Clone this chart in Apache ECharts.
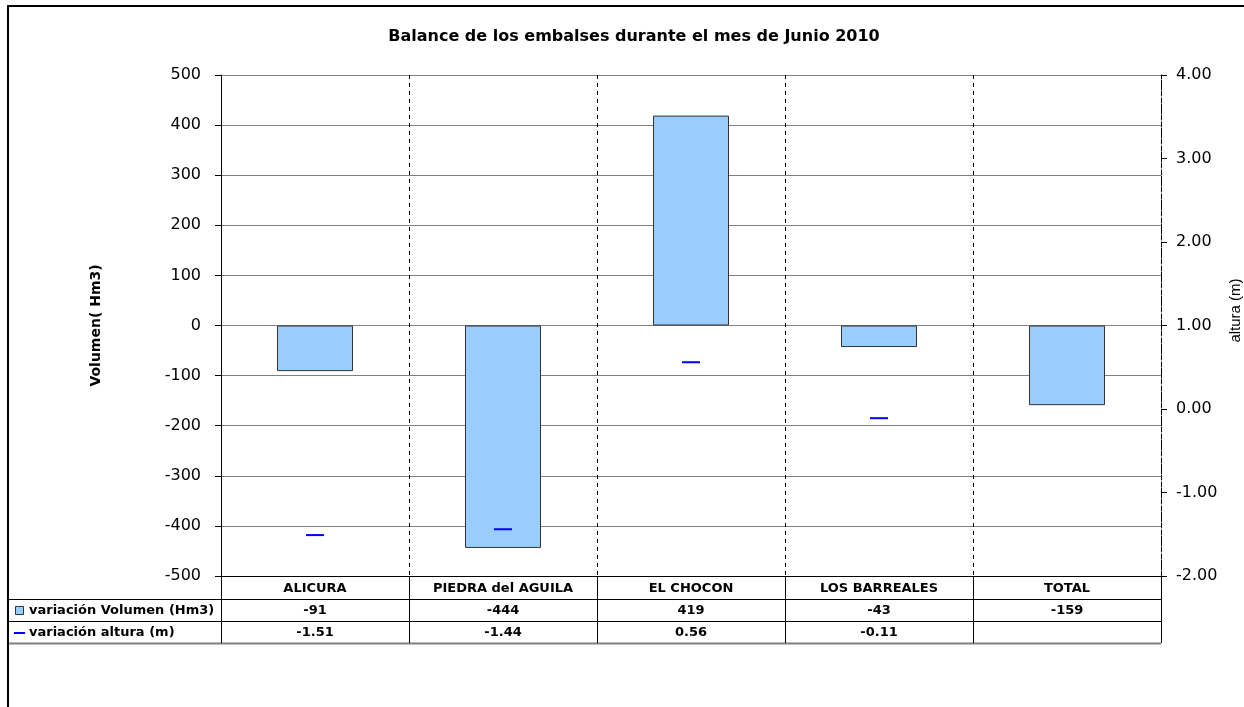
<!DOCTYPE html>
<html>
<head>
<meta charset="utf-8">
<script src="https://cdn.jsdelivr.net/npm/echarts@6/dist/echarts.min.js"></script>
<style>
  html, body { margin: 0; padding: 0; background: #fff; }
  #main { width: 1244px; height: 707px; }
</style>
</head>
<body>
<div id="main"></div>
<script>
// datos del grafico
var categories = ['ALICURA', 'PIEDRA del AGUILA', 'EL CHOCON', 'LOS BARREALES', 'TOTAL'];
var volumen = [-91, -444, 419, -43, -159];
var altura = [-1.51, -1.44, 0.56, -0.11, null];
var volName = 'variación Volumen (Hm3)';
var altName = 'variación altura (m)';

var FONT = '"DejaVu Sans", sans-serif';
var FONT2 = '"Liberation Sans", Arial, sans-serif';
var gLeft = 221, gRight = 1161, gTop = 75, gBottom = 576;
var rowLines = [599, 621, 643];

var myChart = echarts.init(document.getElementById('main'));

// tabla de datos debajo del grafico
function tableGraphics() {
    var g = [];
    var cw = (gRight - gLeft) / categories.length;
    // borde del area del grafico
    g.push({ type: 'rect', shape: { x: 8, y: 6, width: 1400, height: 900 },
        style: { fill: null, stroke: '#000', lineWidth: 2 }, silent: true });
    for (var r = 0; r < rowLines.length; r++) {
        var y = rowLines[r] + 0.5;
        g.push({ type: 'line', shape: { x1: 9, y1: y, x2: gRight, y2: y },
            style: { stroke: r == 2 ? '#808080' : '#000', lineWidth: r == 2 ? 2 : 1 } });
    }
    for (var i = 0; i <= categories.length; i++) {
        var x = Math.round(gLeft + i * cw) + 0.5;
        g.push({ type: 'line', shape: { x1: x, y1: gBottom, x2: x, y2: rowLines[2] },
            style: { stroke: '#000', lineWidth: 1 } });
    }
    var y1 = (rowLines[0] + rowLines[1]) / 2 + 1, y2 = (rowLines[1] + rowLines[2]) / 2 + 1;
    for (var i = 0; i < categories.length; i++) {
        var cx = gLeft + (i + 0.5) * cw;
        g.push({ type: 'text', x: cx, y: y1,
            style: { text: String(volumen[i]), font: 'bold 13px ' + FONT, fill: '#000', align: 'center', verticalAlign: 'middle' } });
        if (altura[i] !== null) {
            g.push({ type: 'text', x: cx, y: y2,
                style: { text: altura[i].toFixed(2), font: 'bold 13px ' + FONT, fill: '#000', align: 'center', verticalAlign: 'middle' } });
        }
    }
    // leyenda en la tabla
    g.push({ type: 'rect', shape: { x: 15.5, y: y1 - 4.5, width: 8, height: 8 },
        style: { fill: '#99CCFF', stroke: '#333', lineWidth: 1 } });
    g.push({ type: 'text', x: 29, y: y1,
        style: { text: volName, font: 'bold 13px ' + FONT, fill: '#000', verticalAlign: 'middle' } });
    g.push({ type: 'line', shape: { x1: 14, y1: y2, x2: 25, y2: y2 },
        style: { stroke: '#0000FF', lineWidth: 2 } });
    g.push({ type: 'text', x: 29, y: y2,
        style: { text: altName, font: 'bold 13px ' + FONT, fill: '#000', verticalAlign: 'middle' } });
    return g;
}

option = {
    animation: false,
    backgroundColor: '#fff',
    title: {
        text: 'Balance de los embalses durante el mes de Junio 2010',
        left: 629, top: 24, textAlign: 'center',
        textStyle: { fontFamily: FONT, fontSize: 16, fontWeight: 'bold', color: '#000' }
    },
    grid: { left: gLeft, right: 1244 - gRight, top: gTop, bottom: 707 - gBottom, outerBoundsMode: 'none', containLabel: false },
    xAxis: {
        type: 'category',
        data: categories,
        boundaryGap: true,
        axisLine: { show: true, onZero: false, lineStyle: { color: '#000', width: 1 } },
        axisTick: { show: false },
        axisLabel: { fontFamily: FONT, fontSize: 13, fontWeight: 'bold', color: '#000', margin: 6, interval: 0 },
        splitLine: { show: true, lineStyle: { color: '#000', type: [4, 4], width: 1 } }
    },
    yAxis: [
        {
            type: 'value', min: -500, max: 500, interval: 100,
            name: 'Volumen( Hm3)', nameLocation: 'middle', nameGap: 118, nameRotate: 90,
            nameTextStyle: { fontFamily: FONT, fontSize: 14, fontWeight: 'bold', color: '#000' },
            axisLine: { show: true, lineStyle: { color: '#000' } },
            axisTick: { show: true, length: 6, lineStyle: { color: '#000' } },
            axisLabel: { fontFamily: FONT, fontSize: 16, color: '#000', margin: 20 },
            splitLine: { show: true, lineStyle: { color: '#808080', width: 1 } }
        },
        {
            type: 'value', min: -2, max: 4, interval: 1, position: 'right',
            name: 'altura (m)', nameLocation: 'middle', nameGap: 62, nameRotate: 90,
            nameTextStyle: { fontFamily: FONT2, fontSize: 15, color: '#000', padding: [0, 0, 0, 30] },
            axisLine: { show: true, lineStyle: { color: '#000', type: [4, 2] } },
            axisTick: { show: true, length: 6, lineStyle: { color: '#000' } },
            axisLabel: { fontFamily: FONT, fontSize: 16, color: '#000', margin: 15,
                formatter: function (v) { return v.toFixed(2); } },
            splitLine: { show: false }
        }
    ],
    series: [
        {
            name: volName,
            type: 'bar',
            data: volumen,
            barWidth: 76,
            itemStyle: { color: '#99CCFF', borderColor: '#333', borderWidth: 1 }
        },
        {
            name: altName,
            type: 'line',
            yAxisIndex: 1,
            data: altura,
            symbol: 'rect',
            symbolSize: [18, 2],
            showSymbol: true,
            lineStyle: { width: 0, opacity: 0 },
            itemStyle: { color: '#0000FF' },
            z: 5
        }
    ],
    graphic: tableGraphics()
};

myChart.setOption(option);
</script>
</body>
</html>
